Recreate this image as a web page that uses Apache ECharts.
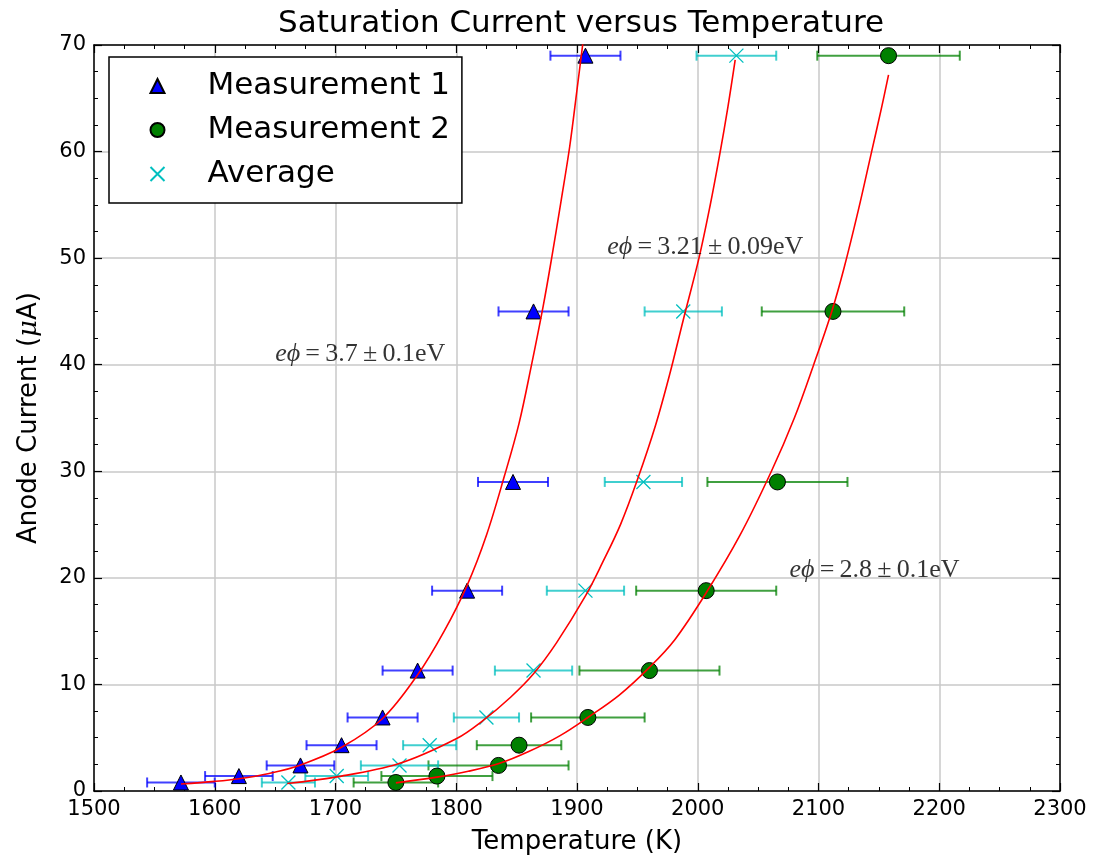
<!DOCTYPE html>
<html>
<head>
<meta charset="utf-8">
<title>Saturation Current versus Temperature</title>
<script src="https://cdn.jsdelivr.net/npm/echarts@6/dist/echarts.min.js"></script>
<style>
  html, body { margin: 0; padding: 0; background: #fff; }
  #chart { width: 1096px; height: 863px; }
</style>
</head>
<body>
<div id="chart"></div>
<script>
// anode current (uA) - same set of currents for both runs
const current = [0.8, 1.4, 2.4, 4.3, 6.9, 11.3, 18.8, 29, 45, 69];

// temperatures (K) and half width of the x error bars
const temp1 = [1572, 1620, 1671, 1705, 1739, 1768, 1809, 1847, 1864, 1907];
const err1 = [28, 28, 28, 29, 29, 29, 29, 29, 29, 29];
const temp2 = [1750, 1784, 1835, 1852, 1909, 1960, 2007, 2066, 2112, 2158];
const err2 = [35, 46, 58, 35, 47, 58, 58, 58, 59, 59];
const tempAvg = [1661, 1701, 1753, 1778, 1825, 1864, 1907, 1955, 1988, 2032];
const errAvg = [22, 26, 32, 22, 27, 32, 32, 32, 32, 33];

// fitted curves
const fit1T = [1572, 1600, 1620, 1645, 1670, 1705, 1739, 1768, 1790, 1809, 1825, 1840, 1852, 1862, 1872, 1879, 1887, 1894, 1900, 1905];
const fit1I = [0.65, 0.9, 1.15, 1.65, 2.4, 4.1, 6.8, 10.9, 15.0, 19.3, 24.0, 29.6, 34.5, 39.8, 45.5, 50.0, 55.5, 60.5, 65.8, 70.3];
const fit2T = [1660, 1700, 1752, 1800, 1822, 1845, 1864, 1883, 1907, 1921, 1936, 1950, 1965, 1977, 1988, 2001, 2010, 2018, 2025, 2031];
const fit2I = [0.7, 1.3, 2.55, 4.9, 6.6, 8.8, 11.0, 13.9, 18.3, 21.4, 25.0, 29.2, 34.3, 39.2, 44.2, 50.0, 54.8, 59.6, 64.2, 68.6];
const fit3T = [1750, 1784, 1810, 1836, 1860, 1886, 1909, 1935, 1960, 1981, 2007, 2035, 2061, 2080, 2096, 2111, 2121, 2133, 2144, 2152, 2158];
const fit3I = [0.76, 1.3, 1.85, 2.6, 3.7, 5.2, 6.9, 9.0, 11.6, 14.2, 18.6, 24.0, 30.0, 35.0, 40.0, 45.0, 49.0, 54.5, 60.0, 64.0, 67.2];

// work function labels: [T, I] of the left edge
const notes = [
  { pos: [1650, 41], text: '3.7\u2009\u00b1\u20090.1eV' },
  { pos: [1925, 51], text: '3.21\u2009\u00b1\u20090.09eV' },
  { pos: [2076, 20.7], text: '2.8\u2009\u00b1\u20090.1eV' }
];

const BLUE = '#0000ff', GREEN = '#008000', CYAN = '#00bfbf';
const SANS = 'DejaVu Sans';
const SERIF = 'Liberation Serif, DejaVu Serif';

function pairs(xs, ys) { return xs.map((x, i) => [x, ys[i]]); }
function errData(xs, errs) { return xs.map((x, i) => [x, current[i], errs[i]]); }

function errSeries(xs, errs, color) {
  return {
    type: 'custom',
    z: 2,
    silent: true,
    data: errData(xs, errs),
    encode: { x: 0, y: 1 },
    renderItem(params, api) {
      const t = api.value(0), y = api.value(1), e = api.value(2);
      const a = api.coord([t - e, y]);
      const b = api.coord([t + e, y]);
      const style = { stroke: color, lineWidth: 2, opacity: 0.75 };
      const cap = 5;
      return {
        type: 'group',
        children: [
          { type: 'line', shape: { x1: a[0], y1: a[1], x2: b[0], y2: b[1] }, style },
          { type: 'line', shape: { x1: a[0], y1: a[1] - cap, x2: a[0], y2: a[1] + cap }, style },
          { type: 'line', shape: { x1: b[0], y1: b[1] - cap, x2: b[0], y2: b[1] + cap }, style }
        ]
      };
    }
  };
}

function fitSeries(xs, ys) {
  return {
    type: 'line',
    z: 4,
    data: pairs(xs, ys),
    showSymbol: false,
    smooth: 0.35,
    silent: true,
    lineStyle: { color: '#ff0000', width: 1.6 }
  };
}

const axisCommon = {
  type: 'value',
  axisLine: { show: true, onZero: false, lineStyle: { color: '#000', width: 1.5 } },
  axisTick: { show: true, inside: true, length: 8, lineStyle: { color: '#000', width: 1.2 } },
  minorTick: { show: true, splitNumber: 4, length: 4, lineStyle: { color: '#000', width: 1 } },
  splitLine: { show: false },
  axisLabel: { color: '#000', fontSize: 21, fontFamily: SANS, margin: 8, formatter: v => String(v) }
};

const chart = echarts.init(document.getElementById('chart'));
chart.setOption({
  animation: false,
  backgroundColor: '#fff',
  title: {
    text: 'Saturation Current versus Temperature',
    left: 576, top: 3, textAlign: 'center',
    textStyle: { fontSize: 31, fontWeight: 'normal', color: '#000', fontFamily: SANS }
  },
  grid: { left: 94, right: 36, top: 45, bottom: 72 },
  legend: {
    data: ['Measurement 1', 'Measurement 2', 'Average'],
    orient: 'vertical',
    left: 109, top: 57,
    backgroundColor: '#fff',
    borderColor: '#000', borderWidth: 1.5, borderRadius: 0,
    padding: [12, 12, 12, 39],
    itemWidth: 14, itemHeight: 14, itemGap: 10,
    selectedMode: false,
    textStyle: { fontSize: 31, lineHeight: 34, color: '#000', fontFamily: SANS, padding: [0, 0, 0, 38] }
  },
  xAxis: [
    Object.assign({}, axisCommon, {
      min: 1500, max: 2300, interval: 100,
      name: 'Temperature (K)', nameLocation: 'middle', nameGap: 38,
      nameTextStyle: { fontSize: 26, color: '#000', fontFamily: SANS },
      splitLine: { show: true, lineStyle: { color: '#c8c8c8', width: 1.5 } }
    }),
    Object.assign({}, axisCommon, {
      position: 'top', min: 1500, max: 2300, interval: 100,
      axisLabel: { show: false }
    })
  ],
  yAxis: [
    Object.assign({}, axisCommon, {
      min: 0, max: 70, interval: 10,
      name: 'Anode Current ({i|\u03bc}A)', nameLocation: 'middle', nameGap: 52,
      nameTextStyle: {
        fontSize: 26, color: '#000', fontFamily: SANS,
        rich: { i: { fontSize: 26, fontStyle: 'italic', fontFamily: 'DejaVu Serif' } }
      },
      splitLine: { show: true, lineStyle: { color: '#c8c8c8', width: 1.5 } }
    }),
    Object.assign({}, axisCommon, {
      position: 'right', min: 0, max: 70, interval: 10,
      axisLabel: { show: false }
    })
  ],
  series: [
    errSeries(temp1, err1, BLUE),
    errSeries(temp2, err2, GREEN),
    errSeries(tempAvg, errAvg, CYAN),
    {
      name: 'Measurement 1', type: 'scatter', z: 3,
      data: pairs(temp1, current),
      symbol: 'triangle', symbolSize: 15,
      itemStyle: { color: BLUE, borderColor: '#000', borderWidth: 1, opacity: 1 }
    },
    {
      name: 'Measurement 2', type: 'scatter', z: 3,
      data: pairs(temp2, current),
      symbol: 'circle', symbolSize: 16,
      itemStyle: { color: GREEN, borderColor: '#000', borderWidth: 1, opacity: 1 }
    },
    {
      name: 'Average', type: 'scatter', z: 3,
      data: pairs(tempAvg, current),
      symbol: 'path://M0,0L10,10M10,0L0,10', symbolSize: 14,
      itemStyle: { color: 'none', borderColor: CYAN, borderWidth: 1.3, opacity: 1 }
    },
    fitSeries(fit1T, fit1I),
    fitSeries(fit2T, fit2I),
    fitSeries(fit3T, fit3I),
    {
      type: 'scatter', z: 5, silent: true,
      symbolSize: 0,
      data: notes.map(n => ({ value: n.pos, text: n.text })),
      label: {
        show: true, position: 'right', distance: 0,
        formatter: p => '{i|e\u03d5}{n|\u2009=\u2009' + p.data.text + '}',
        rich: {
          i: { fontSize: 26, fontStyle: 'italic', fontFamily: SERIF, color: '#000' },
          n: { fontSize: 26, fontFamily: SERIF, color: '#000' }
        }
      }
    }
  ]
});
</script>
</body>
</html>
